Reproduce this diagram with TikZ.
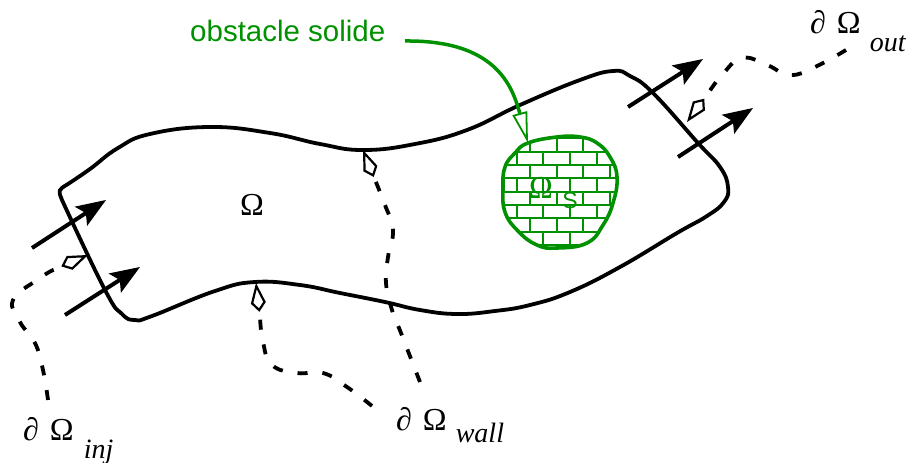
\documentclass[tikz,border=0pt]{standalone}
\usepackage{xcolor}
\usepackage{fontspec}
\usepackage{tikz}
\usetikzlibrary{arrows.meta,positioning,calc}
\setmainfont{Liberation Serif}
\setsansfont{Liberation Sans}
\definecolor{solidgreen}{RGB}{0,145,0}
\newcommand{\bdlabel}[3]{∂\hspace{3pt} Ω\hspace{#2pt}\raisebox{#3pt}{\fontsize{28}{28}\selectfont\itshape #1}}

\begin{document}
\begin{tikzpicture}[
    x=1pt, y=-1pt,
    every node/.style={font=\fontsize{32}{36}\selectfont, inner sep=0pt},
    wall/.style={line width=3.8pt, black, line join=round},
    brick/.style={line width=1.8pt, solidgreen},
    inflow/.style={line width=4pt, -{Stealth[length=30pt, width=23pt, inset=6pt, line width=0pt]}},
    probe/.style={line width=3.8pt, dash pattern=on 10pt off 15pt,
                  -{Kite[open, fill=white, length=29pt, width=15pt, inset=9pt, line width=2.2pt]}},
    pointer/.style={line width=3.5pt, solidgreen,
                  -{Triangle[open, fill=white, length=31pt, width=15pt, line width=1.8pt]}}
]
\useasboundingbox (0,0) rectangle (911,463);

% Fluid domain
\draw[wall] plot[smooth, tension=0.75] coordinates {(62,200) (105,290) (122,314) (135,320)
    (152,316) (215,291) (255,282) (300,285) (340,293) (385,302) (420,310) (457,314) (495,311) (530,305)
    (570,292) (620,267) (677,233) (707,216) (724,202) (728,187) (720,167) (698,143) (653,93) (630,76)
    (613,71) (580,80) (520,105) (467,130) (415,144) (363,150) (320,144) (270,133) (210,127) (150,134)
    (118,148) (90,169) (68,184)} .. controls (58,190) .. (62,200);

% Solid obstacle
\begin{scope}
  \clip plot[smooth cycle, tension=0.75] coordinates {(528,143) (557,137) (580,137) (597,143) (610,157)
    (617,177) (613,203) (603,225) (587,243) (557,248) (537,245) (518,231) (505,212) (503,187) (505,167) (515,153)};
  \foreach \row in {0,...,8} {
    \pgfmathsetmacro{\ytop}{138.3+13.33*\row}
    \pgfmathsetmacro{\xoff}{mod(\row,2)==0 ? 503.3 : 516.7}
    \draw[brick] (490,\ytop) -- (630,\ytop);
    \foreach \col in {0,...,4} {
      \draw[brick] ({\xoff+26.67*\col},\ytop) -- ++(0,13.33);
    }
  }
\end{scope}
\draw[line width=3.6pt, solidgreen] plot[smooth cycle, tension=0.75] coordinates {(528,143) (557,137) (580,137)
  (597,143) (610,157) (617,177) (613,203) (603,225) (587,243) (557,248) (537,245) (518,231) (505,212) (503,187)
  (505,167) (515,153)};

% Labels
\node (omega) at (252,205) {Ω};
\node[text=solidgreen] (omegas) at (541,188) {Ω};
\node[text=solidgreen, font=\fontsize{23}{24}\sffamily\selectfont] (subs) at (570,201) {S};
\node[text=solidgreen, font=\fontsize{29.5}{32}\sffamily\selectfont, anchor=west] (obstacle) at (190,31) {obstacle solide};
\node[anchor=base west] (inj) at (23,440) {\bdlabel{inj}{10}{-18}};
\node[anchor=base west] (wall) at (396,430) {\bdlabel{wall}{9}{-12}};
\node[anchor=base west] (out) at (810,33) {\bdlabel{out}{9}{-18}};

% Coordinates on the boundary
\coordinate (tipobst) at (528,143);
\coordinate (tipinj) at (88,255);
\coordinate (tiptop) at (363,150);
\coordinate (tipbot) at (256,283);
\coordinate (tipout) at (687,122);
\coordinate (endinj) at (48,400);
\coordinate (endtop) at (420,382);
\coordinate (endbot) at (372,406);
\coordinate (endout) at (846,50);

% Inflow and outflow arrows
\coordinate (ina) at (32,248);  \coordinate (inb) at (106,200);
\coordinate (inc) at (65,315);  \coordinate (ind) at (140,267);
\coordinate (outa) at (628,107); \coordinate (outb) at (703,59);
\coordinate (outc) at (678,157); \coordinate (outd) at (753,108);
\draw[inflow] (ina) -- (inb);
\draw[inflow] (inc) -- (ind);
\draw[inflow] (outa) -- (outb);
\draw[inflow] (outc) -- (outd);

% Dashed leaders
\draw[probe] plot[smooth, tension=0.75] coordinates {(endinj) (43,370) (35,343) (20,322) (13,300) (37,280) (53,270)} -- (tipinj);
\draw[probe] plot[smooth, tension=0.75] coordinates {(endtop) (401,333) (392,310) (386,283) (388,257) (393,230) (385,205) (373,175)} -- (tiptop);
\draw[probe] plot[smooth, tension=0.75] coordinates {(endbot) (347,387) (323,373) (297,373) (272,365) (263,342) (260,317)} -- (tipbot);
\draw[probe] plot[smooth, tension=0.75] coordinates {(endout) (815,67) (790,75) (767,65) (742,58) (722,75) (707,95)} -- (tipout);

% Pointer to the obstacle
\draw[pointer] (405,41) .. controls (495,40) and (512,85) .. (tipobst);
\end{tikzpicture}
\end{document}
